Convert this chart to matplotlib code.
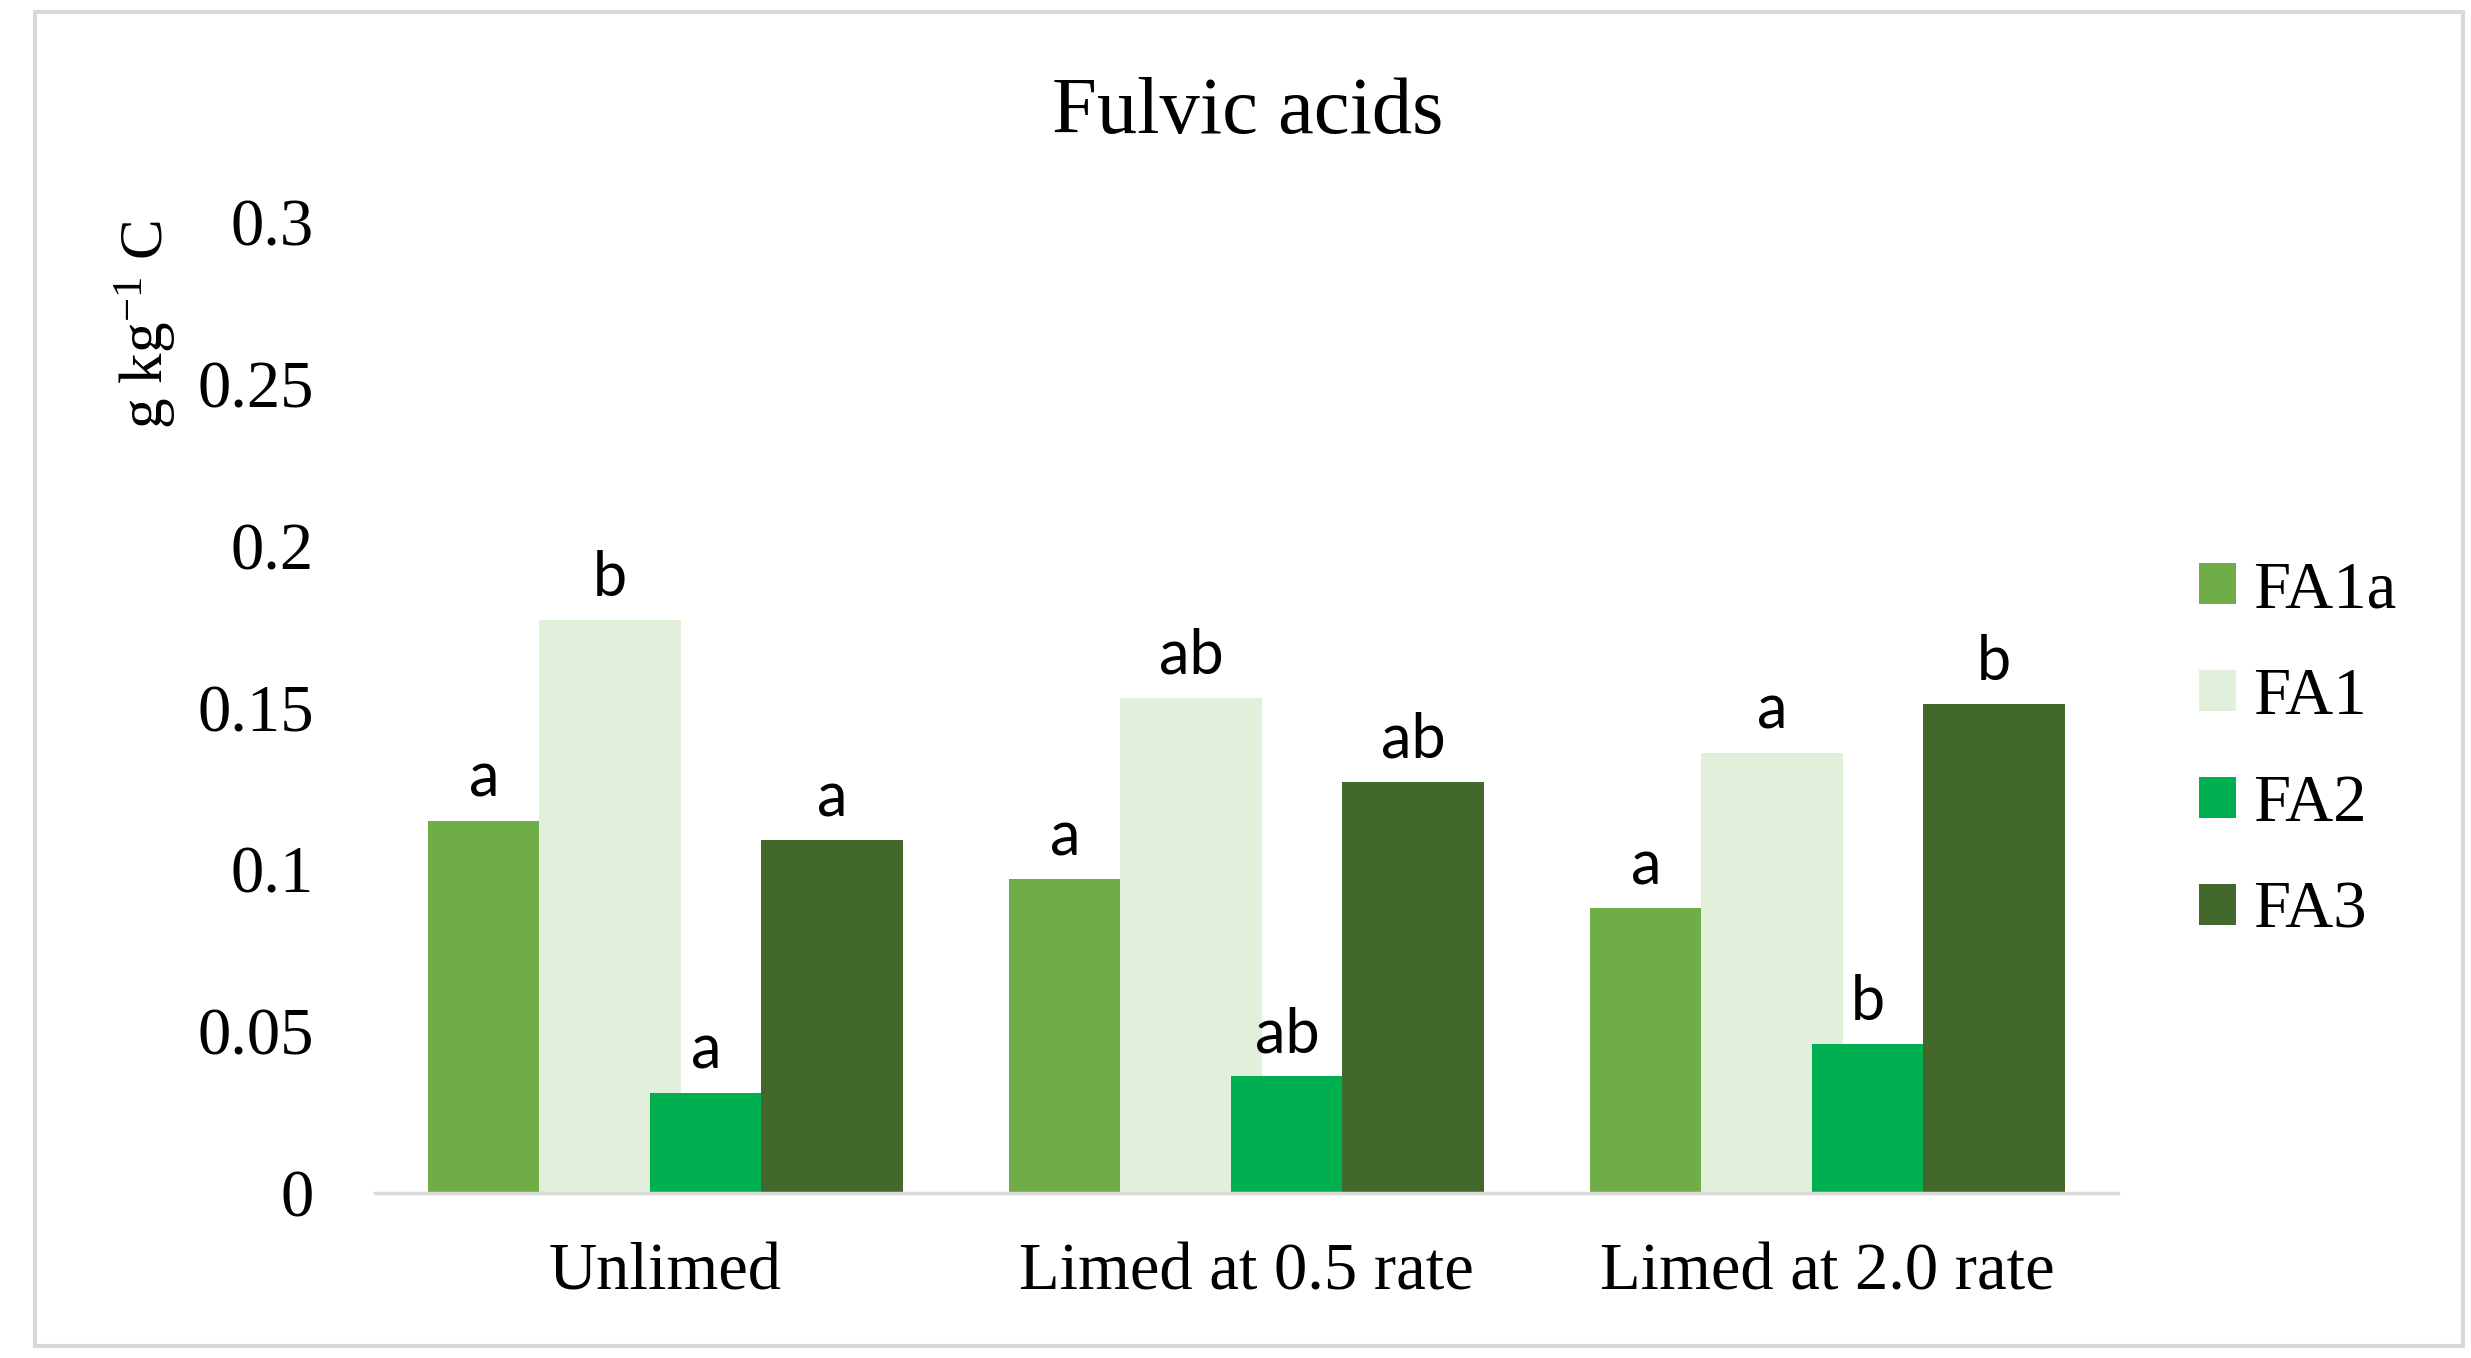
import matplotlib
matplotlib.use("Agg")
import matplotlib.pyplot as plt
import numpy as np
from matplotlib.patches import Rectangle

categories = ["Unlimed", "Limed at 0.5 rate", "Limed at 2.0 rate"]
series = ["FA1a", "FA1", "FA2", "FA3"]
fa1a = [0.115, 0.097, 0.088]
fa1 = [0.177, 0.153, 0.136]
fa2 = [0.031, 0.036, 0.046]
fa3 = [0.109, 0.127, 0.151]
letters_fa1a = ["a", "a", "a"]
letters_fa1 = ["b", "ab", "a"]
letters_fa2 = ["a", "ab", "b"]
letters_fa3 = ["a", "ab", "b"]
yticks = [0, 0.05, 0.1, 0.15, 0.2, 0.25, 0.3]
ytick_labels = ["0", "0.05", "0.1", "0.15", "0.2", "0.25", "0.3"]

colors = ["#70AD47", "#E2EFDA", "#00B050", "#43682B"]
values = [fa1a, fa1, fa2, fa3]
letters = [letters_fa1a, letters_fa1, letters_fa2, letters_fa3]

serif = ["Liberation Serif", "DejaVu Serif"]
plt.rcParams["font.family"] = serif
plt.rcParams["mathtext.default"] = "regular"

W, H = 2471, 1358
fig = plt.figure(figsize=(W / 100, H / 100), dpi=100)

ax = fig.add_axes([375 / W, 1 - 1193 / H, (2118 - 375) / W, (1193 - 222) / H])

step = 0.191
widths = [step, 0.243, step, 0.243]
x = np.arange(len(categories))
start = -0.408
handles = []
for i, (vals, c, lab) in enumerate(zip(values, colors, letters)):
    left = x + start + i * step
    b = ax.bar(left, vals, width=widths[i], align="edge", color=c, label=series[i], zorder=2 + i)
    handles.append(b)
    for xl, v, t in zip(left, vals, lab):
        ax.text(xl + widths[i] / 2, v + 0.004, t, ha="center", va="bottom",
                fontsize=44, family=["Lato", "DejaVu Sans"], zorder=10)

ax.set_xlim(-0.5, 2.5)
ax.set_ylim(0, 0.3)
ax.set_yticks(yticks)
ax.set_yticklabels(ytick_labels, fontsize=48)
ax.set_xticks(x)
ax.set_xticklabels(categories, fontsize=48)
ax.tick_params(axis="both", length=0)
ax.tick_params(axis="y", pad=44)
ax.tick_params(axis="x", pad=36)
for s in ["top", "right", "left"]:
    ax.spines[s].set_visible(False)
ax.spines["bottom"].set_color("#D9D9D9")
ax.spines["bottom"].set_linewidth(2.5)
ax.spines["bottom"].set_zorder(20)

fig.text(1248 / W, 1 - 113 / H, "Fulvic acids", ha="center", va="center",
         fontsize=58)
fig.text(146 / W, 1 - 325 / H, r"g kg$^{-1}$ C", rotation=90,
         ha="center", va="center", fontsize=44)

fig.legend(handles=handles, labels=series, loc="center left",
           bbox_to_anchor=(2166 / W, 1 - 751 / H), frameon=False,
           prop={"size": 48},
           handlelength=0.55, handleheight=0.55, handletextpad=0.25,
           labelspacing=0.69, borderpad=0)

fig.patches.append(Rectangle((35 / W, 12 / H), (2463 - 35) / W, (1346 - 12) / H,
                             transform=fig.transFigure, fill=False,
                             edgecolor="#D9D9D9", linewidth=3))

fig.savefig("out.png", dpi=100)
